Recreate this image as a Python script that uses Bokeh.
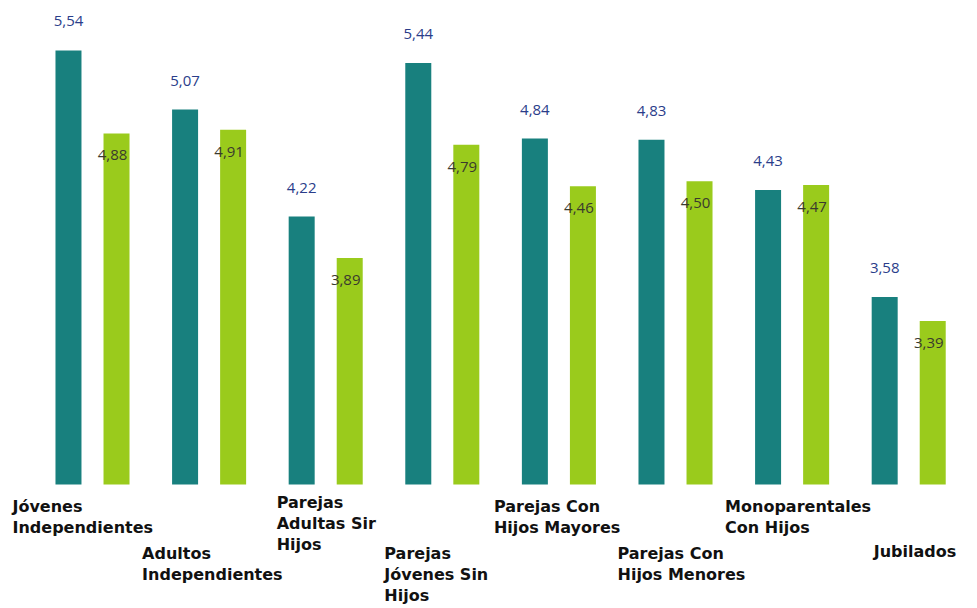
from bokeh.plotting import figure
from bokeh.models import ColumnDataSource, Range1d
from bokeh.core.properties import value
from bokeh.embed import file_html
from bokeh.resources import INLINE

categories = ["Jóvenes\nIndependientes", "Adultos\nIndependientes", "Parejas\nAdultas Sir\nHijos",
              "Parejas\nJóvenes Sin\nHijos", "Parejas Con\nHijos Mayores", "Parejas Con\nHijos Menores",
              "Monoparentales\nCon Hijos", "Jubilados"]
serie_a = [5.54, 5.07, 4.22, 5.44, 4.84, 4.83, 4.43, 3.58]
serie_b = [4.88, 4.91, 3.89, 4.79, 4.46, 4.50, 4.47, 3.39]

# label layout (styling only)
label_dx = [-80, -67, -49, -58, -65, -58, -67, -35]
label_dy = [13, 60, 9, 60, 13, 60, 13, 58]

base = 2.09
xs = list(range(len(categories)))
fmt = lambda v: f"{v:.2f}".replace(".", ",")

src = ColumnDataSource(dict(
    x=xs,
    xa=[x - 0.206 for x in xs],
    xb=[x + 0.206 for x in xs],
    a=serie_a, b=serie_b,
    la=[fmt(v) for v in serie_a], lb=[fmt(v) for v in serie_b],
    base=[base] * len(xs),
    cat=categories, dx=label_dx, dy=label_dy,
))

p = figure(width=977, height=608, output_backend="svg", toolbar_location=None,
           x_range=Range1d(-0.789, 7.590), y_range=Range1d(1.104, 5.937),
           min_border=0, min_border_left=0, min_border_right=0,
           min_border_top=0, min_border_bottom=0)
p.axis.visible = False
p.grid.visible = False
p.outline_line_color = None
p.background_fill_color = "white"

p.vbar(x="xa", bottom="base", top="a", width=0.223, source=src,
       fill_color="#18807e", line_color=None)
p.vbar(x="xb", bottom="base", top="b", width=0.223, source=src,
       fill_color="#9acb1c", line_color=None)

p.text(x="xa", y="a", text="la", source=src, text_align="center", text_baseline="middle",
       y_offset=-29, text_font=value("Open Sans"), text_font_size="15px", text_color="#2a3d8a")
p.text(x="xb", y="b", text="lb", source=src, text_align="center", text_baseline="middle",
       x_offset=-4, y_offset=22, text_font=value("Open Sans"), text_font_size="15px",
       text_color="#3a3a2e")

p.text(x="x", y="base", text="cat", source=src, text_align="left", text_baseline="top",
       x_offset="dx", y_offset="dy", text_font=value("DejaVu Sans"), text_font_style="bold",
       text_font_size="16px", text_color="#111111", text_line_height=1.1)

open("out.html", "w").write(file_html(p, INLINE))
